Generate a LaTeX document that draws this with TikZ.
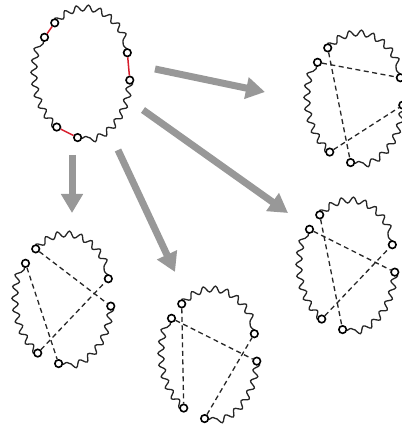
\documentclass[tikz,border=0pt]{standalone}
\usetikzlibrary{decorations.pathmorphing,arrows.meta}
\definecolor{arrgray}{RGB}{152,152,152}
\definecolor{chordred}{RGB}{215,30,45}
\tikzset{
  wave/.style={draw=black!85,line width=1.3pt,decorate,decoration={snake,segment length=11.5pt,amplitude=3pt}},
  pt/.style={circle,draw=black,fill=white,line width=1.6pt,inner sep=0pt,minimum size=7.5pt},
  dashline/.style={draw=black!85,line width=1.3pt,dash pattern=on 5pt off 3.5pt},
  redchord/.style={draw=chordred,line width=1.5pt},
  bigarrow/.style={draw=arrgray,line width=7pt,-{Triangle[width=21pt,length=19pt]}},
  pics/wavyloop/.style={code={
    \draw[wave] (233:47 and 64) arc[start angle=233,end angle=340.6,x radius=47,y radius=64];
    \draw[wave] (5.5:47 and 64) arc[start angle=5.5,end angle=96.6,x radius=47,y radius=64];
    \draw[wave] (124:47 and 64) arc[start angle=124,end angle=215,x radius=47,y radius=64];
    \node[pt] (-A) at (233:47 and 64) {};
    \node[pt] (-B) at (215:47 and 64) {};
    \node[pt] (-R1) at (340.6:47 and 64) {};
    \node[pt] (-R2) at (5.5:47 and 64) {};
    \node[pt] (-D2) at (96.6:47 and 64) {};
    \node[pt] (-D1) at (124:47 and 64) {};
  }}
}
\begin{document}
\begin{tikzpicture}[x=1pt,y=-1pt]
\useasboundingbox (0,0) rectangle (401,427);
% diagrams
\pic (tl) at (83,74) {wavyloop};
\pic (tr) at (356,99) {wavyloop};
\pic (mr) at (348,266) {wavyloop};
\pic (bl) at (64,300) {wavyloop};
\pic (bm) at (210,355) {wavyloop};
% red chords
\draw[redchord] (tl-A) -- (tl-B);
\draw[redchord] (tl-R1) -- (tl-R2);
\draw[redchord] (tl-D1) -- (tl-D2);
% top-right
\draw[dashline] (tr-B) -- (tr-R1);
\draw[dashline] (tr-A) -- (tr-D2);
\draw[dashline] (tr-D1) -- (tr-R2);
% middle-right
\draw[dashline] (mr-B) -- (mr-R2);
\draw[dashline] (mr-A) -- (mr-D2);
\draw[dashline] (mr-D1) -- (mr-R1);
% bottom-left
\draw[dashline] (bl-A) -- (bl-R2);
\draw[dashline] (bl-B) -- (bl-D2);
\draw[dashline] (bl-D1) -- (bl-R1);
% bottom-middle
\draw[dashline] (bm-A) -- (bm-D1);
\draw[dashline] (bm-B) -- (bm-R2);
\draw[dashline] (bm-D2) -- (bm-R1);
% arrows
\coordinate (a1s) at (155,69);  \coordinate (a1e) at (265,92);
\coordinate (a2s) at (143,110); \coordinate (a2e) at (288,213);
\coordinate (a3s) at (72,155);  \coordinate (a3e) at (72,213);
\coordinate (a4s) at (118,150); \coordinate (a4e) at (175,272);
\draw[bigarrow] (a1s) -- (a1e);
\draw[bigarrow] (a2s) -- (a2e);
\draw[bigarrow] (a3s) -- (a3e);
\draw[bigarrow] (a4s) -- (a4e);
\end{tikzpicture}
\end{document}
